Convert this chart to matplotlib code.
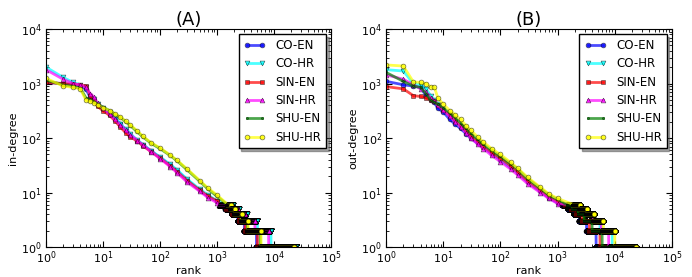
import matplotlib
matplotlib.use("Agg")
import matplotlib.pyplot as plt
import numpy as np

plt.rcParams["font.family"] = "DejaVu Sans"
plt.rcParams["mathtext.fontset"] = "dejavusans"
plt.rcParams["mathtext.default"] = "regular"

labels = ["CO-EN", "CO-HR", "SIN-EN", "SIN-HR", "SHU-EN", "SHU-HR"]
colors = ["#0000ff", "#00ffff", "#ff0000", "#ff00ff", "#008000", "#ffff00"]
markers = ["o", "v", "s", "^", ".", "o"]

# ranks (shared by every series)
body_ranks = [1, 2, 3, 4, 5, 6, 7, 8, 10, 13, 16, 20, 25, 30, 40, 50, 70, 100, 150, 200, 300, 500, 700, 1000]

# (A) in-degree at the ranks above
in_body = {
    "CO-EN":  [1050, 1000, 950, 900, 800, 550, 480, 400, 340, 280, 230, 180, 140, 115, 90, 75, 58, 44, 32, 25, 17, 11, 8.5, 7],
    "CO-HR":  [2000, 1300, 1050, 950, 850, 600, 520, 420, 360, 300, 240, 185, 145, 120, 92, 76, 58, 45, 33, 26, 17.5, 11.5, 9, 7],
    "SIN-EN": [1050, 1000, 980, 950, 900, 600, 500, 380, 320, 260, 210, 160, 125, 105, 88, 72, 56, 43, 31, 24, 16.5, 11, 8.5, 7],
    "SIN-HR": [1800, 1200, 1000, 950, 850, 650, 560, 440, 350, 280, 220, 175, 140, 115, 90, 74, 56, 42, 30, 23, 15.5, 10.5, 8, 6.5],
    "SHU-EN": [1150, 950, 880, 820, 550, 500, 460, 420, 370, 320, 280, 240, 200, 170, 130, 105, 80, 64, 48, 38, 26, 16, 11.5, 8.5],
    "SHU-HR": [1250, 900, 850, 800, 500, 470, 440, 400, 360, 320, 280, 245, 205, 175, 135, 108, 82, 66, 49, 39, 27, 16.5, 12, 9],
}
# (B) out-degree at the ranks above
out_body = {
    "CO-EN":  [1100, 950, 900, 850, 600, 500, 450, 350, 300, 220, 180, 150, 120, 100, 80, 68, 52, 40, 29, 23, 15.5, 10.5, 8, 6.5],
    "CO-HR":  [1800, 1700, 1000, 950, 800, 600, 500, 420, 340, 260, 200, 160, 130, 110, 88, 72, 55, 42, 30, 24, 16, 11, 8.3, 6.8],
    "SIN-EN": [880, 800, 600, 580, 550, 500, 480, 400, 330, 260, 210, 170, 135, 110, 85, 70, 54, 43, 31, 24, 16, 11, 8.3, 6.8],
    "SIN-HR": [1450, 1200, 950, 800, 700, 550, 480, 400, 330, 250, 200, 160, 125, 100, 78, 64, 48, 37, 27, 21, 14.5, 10, 7.8, 6.3],
    "SHU-EN": [1600, 1100, 900, 850, 650, 500, 450, 420, 360, 290, 240, 190, 150, 125, 95, 78, 60, 46, 34, 27, 18, 12, 9, 7.5],
    "SHU-HR": [2200, 2100, 1070, 1050, 1000, 870, 850, 550, 420, 320, 270, 220, 170, 140, 105, 85, 64, 50, 36, 28, 19, 12.5, 9.5, 7.8],
}

# tail: low degree levels and the rank where each level starts, last entry = number of nodes
tail_degrees = [6, 5, 4, 3, 2, 1]
in_tail = {
    "CO-EN":  [1150, 1400, 1800, 2300, 3000, 4900, 19000],
    "CO-HR":  [1300, 1900, 2400, 3300, 5100, 8800, 24500],
    "SIN-EN": [1150, 1450, 1850, 2400, 3100, 5100, 17000],
    "SIN-HR": [1100, 1800, 2300, 3100, 4600, 8000, 21000],
    "SHU-EN": [1500, 1700, 2000, 2600, 3400, 5700, 20000],
    "SHU-HR": [1550, 1750, 2050, 2700, 3500, 5900, 22000],
}
out_tail = {
    "CO-EN":  [1200, 1500, 1900, 2400, 3200, 4700, 16000],
    "CO-HR":  [1600, 2200, 2900, 3900, 5500, 9000, 20000],
    "SIN-EN": [1350, 1700, 2100, 2700, 3600, 5500, 18000],
    "SIN-HR": [1500, 2400, 3100, 4200, 5800, 7800, 21000],
    "SHU-EN": [1450, 1800, 2300, 2900, 4000, 6000, 19000],
    "SHU-HR": [1900, 2500, 3300, 4400, 6300, 10000, 23500],
}


def rank_series(body, tail):
    # every node ranked in a degree level gets that degree
    r = list(body_ranks)
    d = list(body)
    for i, deg in enumerate(tail_degrees):
        rr = np.arange(tail[i], tail[i + 1])
        r.extend(rr)
        d.extend([deg] * len(rr))
    return np.array(r), np.array(d, dtype=float)


fig = plt.figure(figsize=(6.92, 2.77), dpi=100)
ax1 = fig.add_axes([0.0665, 0.108, 0.412, 0.787])
ax2 = fig.add_axes([0.558, 0.108, 0.413, 0.787])

for ax, body, tail, title, ylab in [(ax1, in_body, in_tail, "(A)", "in-degree"),
                                     (ax2, out_body, out_tail, "(B)", "out-degree")]:
    for lab, c, m in zip(labels, colors, markers):
        r, d = rank_series(body[lab], tail[lab])
        ms = 3 if m == "." else 3.5
        ax.plot(r, d, color=c, marker=m, markersize=ms, markeredgecolor="k",
                markeredgewidth=0.4, linewidth=2, alpha=0.7, label=lab)
    ax.set_xscale("log")
    ax.set_yscale("log")
    ax.set_xlim(1, 1e5)
    ax.set_ylim(1, 1e4)
    ax.tick_params(which="both", direction="in", top=True, right=True, labelsize=8)
    ax.tick_params(axis="x", which="major", pad=2)
    ax.tick_params(axis="y", which="major", pad=3)
    ax.tick_params(which="major", length=4)
    ax.tick_params(which="minor", length=2)
    ax.set_title(title, fontsize=13, pad=3)
    ax.set_xlabel("rank", fontsize=8, labelpad=0)
    ax.set_ylabel(ylab, fontsize=8, labelpad=2)
    leg = ax.legend(loc="upper right", fontsize=8.5, numpoints=2, shadow=True,
                    fancybox=False, borderaxespad=0.45, handlelength=1.9,
                    labelspacing=0.45)
    leg.get_frame().set_edgecolor("k")
    for lh in leg.get_lines():
        lh.set_alpha(0.7)

fig.savefig("out.png", dpi=100, facecolor="white")
